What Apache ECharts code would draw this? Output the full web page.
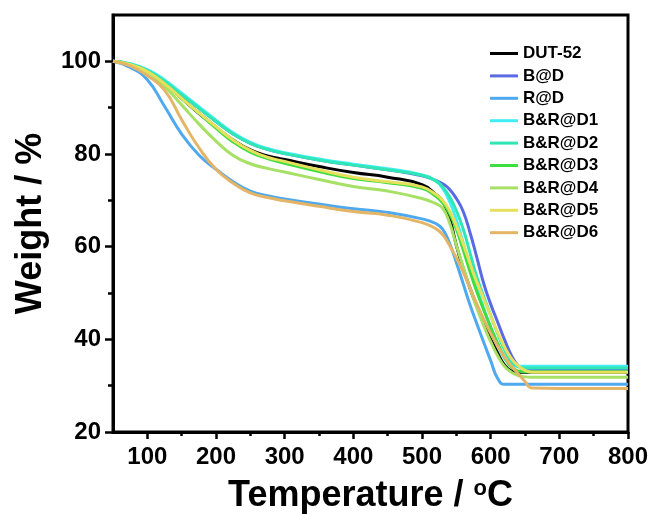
<!DOCTYPE html>
<html>
<head>
<meta charset="utf-8">
<script src="https://cdn.jsdelivr.net/npm/echarts@6/dist/echarts.min.js"></script>
<style>html,body{margin:0;padding:0;background:#fff;}#chart{width:656px;height:514px;}</style>
</head>
<body>
<div id="chart"></div>
<script>
const temps = [50,75,100,125,150,175,200,225,250,275,300,350,400,450,500,520,530,540,550,560,570,580,590,600,610,620,630,640,650,660,700,800];
const seriesNames = ['DUT-52','B@D','R@D','B&R@D1','B&R@D2','B&R@D3','B&R@D4','B&R@D5','B&R@D6'];
const colors = ['#000000','#5a6ae2','#4fa9ee','#42eef6','#30e6b4','#3ede3e','#a6e064','#e6e05e','#e4b566'];
const dut52 = [100,99.3,97.8,95.2,92.0,88.8,85.8,83.0,80.9,79.6,78.8,77.3,76.0,75.0,73.4,71.3,69.8,66.2,60.3,55.3,51.0,47.1,43.5,40.1,37.1,34.5,33.2,32.9,32.9,32.9,32.9,32.9];
const bd     = [100,99.4,98.0,95.7,92.8,89.9,87.0,84.3,82.3,81.0,80.1,78.7,77.6,76.6,75.3,74.3,73.6,72.4,70.4,67.6,63.0,57.6,52.0,47.6,43.8,40.0,36.6,34.3,33.5,33.4,33.4,33.4];
const rd     = [100,98.7,96.0,90.3,84.3,79.8,76.7,74.0,72.0,71.0,70.3,69.2,68.2,67.4,66.0,65.0,63.8,60.8,56.6,52.0,47.4,43.3,39.3,35.4,31.6,30.3,30.3,30.3,30.3,30.3,30.3,30.3];
const brd1   = [100,99.5,98.2,96.0,93.1,90.2,87.3,84.6,82.5,81.2,80.3,78.9,77.8,76.8,75.5,74.2,72.6,69.8,65.8,60.8,55.8,51.0,46.6,42.6,38.9,35.9,34.5,34.2,34.2,34.2,34.2,34.2];
const brd2   = [100,99.4,98.0,95.7,92.8,89.9,87.0,84.3,82.3,81.0,80.1,78.7,77.6,76.6,75.4,74.2,72.9,70.8,67.8,63.8,58.6,53.4,49.2,45.2,41.3,37.8,35.2,34.1,33.8,33.8,33.8,33.8];
const brd3   = [100,99.3,97.8,95.2,92.0,88.8,85.6,82.6,80.4,79.0,78.0,76.2,74.7,73.8,72.6,70.9,69.5,67.2,63.8,59.3,54.6,50.2,46.3,42.6,39.2,36.2,34.0,33.2,33.0,33.0,33.0,33.0];
const brd4   = [100,99.2,97.6,94.6,90.6,86.5,82.8,79.7,77.9,76.9,76.1,74.5,73.0,72.0,70.4,69.3,68.3,65.2,60.3,55.6,51.0,46.7,42.9,39.5,36.5,34.2,32.9,32.2,31.9,31.8,31.8,31.8];
const brd5   = [100,99.3,97.8,95.2,92.0,88.9,85.9,83.0,80.8,79.3,78.4,76.6,75.0,74.0,72.9,71.3,70.0,67.8,64.5,60.6,56.3,52.3,48.7,45.1,41.6,38.4,35.9,34.3,33.3,32.9,32.9,32.9];
const brd6   = [100,99.0,96.9,93.8,87.4,81.4,76.7,73.7,71.6,70.6,69.9,68.7,67.6,66.8,65.2,63.9,62.6,60.3,57.6,54.5,51.0,47.6,44.3,41.3,38.6,36.2,34.3,32.6,30.9,29.5,29.4,29.4];
const xMajorTicks = [100,200,300,400,500,600,700,800];
const xMinorTicks = [150,250,350,450,550,650,750];
const yMajorTicks = [20,40,60,80,100];
const yMinorTicks = [30,50,70,90];

const allValues = [dut52, bd, rd, brd1, brd2, brd3, brd4, brd5, brd6];
const FONT = "'Liberation Sans', Arial, Helvetica, sans-serif";

const chart = echarts.init(document.getElementById('chart'), null, {renderer: 'canvas'});
const series = allValues.map((vals, k) => ({
  name: seriesNames[k],
  type: 'line',
  xAxisIndex: 0,
  yAxisIndex: 0,
  symbol: 'none',
  showSymbol: false,
  smooth: 0.5,
  color: colors[k],
  lineStyle: {color: colors[k], width: 3},
  data: temps.map((t, i) => [t, vals[i]])
}));

chart.setOption({
  animation: false,
  backgroundColor: '#fff',
  textStyle: {fontFamily: FONT},
  grid: {left: 113, right: 28, top: 15, bottom: 82, show: true, borderColor: '#000', borderWidth: 3, containLabel: false, outerBoundsMode: 'none'},
  legend: {
    orient: 'vertical', left: 490, top: 45, padding: 0,
    icon: 'rect', itemWidth: 28, itemHeight: 3, itemGap: 5.4,
    data: seriesNames,
    textStyle: {fontFamily: FONT, fontSize: 17, fontWeight: 'bold', color: '#000', lineHeight: 17}
  },
  xAxis: [{
    type: 'value', min: 50, max: 800, position: 'bottom',
    axisLine: {show: true, lineStyle: {color: '#000', width: 3}},
    axisTick: {show: true, customValues: xMajorTicks, length: 7, lineStyle: {color: '#000', width: 2.5}},
    axisLabel: {customValues: xMajorTicks, fontFamily: FONT, fontSize: 24, fontWeight: 'bold', color: '#000', margin: 13},
    splitLine: {show: false},
    name: 'Temperature / {sup|o}C',
    nameLocation: 'middle', nameGap: 46,
    nameTextStyle: {fontFamily: FONT, fontSize: 36, fontWeight: 'bold', color: '#000', lineHeight: 36,
      rich: {sup: {fontFamily: FONT, fontSize: 22, fontWeight: 'bold', color: '#000', verticalAlign: 'top', lineHeight: 36}}}
  }, {
    type: 'value', min: 50, max: 800, position: 'bottom',
    axisLine: {show: false},
    axisTick: {show: true, customValues: xMinorTicks, length: 4, lineStyle: {color: '#000', width: 2.5}},
    axisLabel: {show: false},
    splitLine: {show: false}
  }],
  yAxis: [{
    type: 'value', min: 20, max: 110, position: 'left',
    axisLine: {show: true, lineStyle: {color: '#000', width: 3}},
    axisTick: {show: true, customValues: yMajorTicks, length: 8, lineStyle: {color: '#000', width: 2.5}},
    axisLabel: {customValues: yMajorTicks, fontFamily: FONT, fontSize: 24, fontWeight: 'bold', color: '#000', margin: 12},
    splitLine: {show: false},
    name: 'Weight / %',
    nameLocation: 'middle', nameGap: 64, nameRotate: 90,
    nameTextStyle: {fontFamily: FONT, fontSize: 36, fontWeight: 'bold', color: '#000'}
  }, {
    type: 'value', min: 20, max: 110, position: 'left',
    axisLine: {show: false},
    axisTick: {show: true, customValues: yMinorTicks, length: 5, lineStyle: {color: '#000', width: 2.5}},
    axisLabel: {show: false},
    splitLine: {show: false}
  }],
  series: series
});
</script>
</body>
</html>
